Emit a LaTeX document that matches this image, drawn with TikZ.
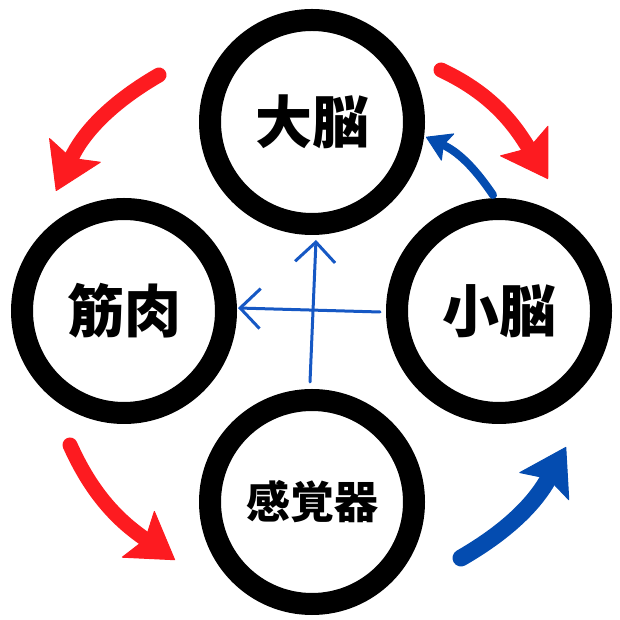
\documentclass[tikz,border=0pt]{standalone}
\usepackage{fontspec}
\newfontfamily\jpfont{Noto Sans CJK JP}
\usetikzlibrary{arrows.meta,calc}
\definecolor{ring}{RGB}{0,0,0}
\definecolor{hotred}{RGB}{253,27,32}
\definecolor{deepblue}{RGB}{4,76,176}
\definecolor{penblue}{RGB}{22,88,196}
\tikzset{
  organ/.style={circle, draw=ring, line width=22pt, minimum size=204pt, inner sep=0pt,
                font={\jpfont\bfseries\fontsize{57}{60}\selectfont}},
  redarr/.style={-{Stealth[length=46pt, width=58pt, inset=9pt, round, line width=1pt]},
                 line width=15pt, draw=hotred, line cap=round},
  bluearr/.style={-{Stealth[length=46pt, width=58pt, inset=9pt, round, line width=1pt]},
                  line width=17pt, draw=deepblue, line cap=round},
  smallarr/.style={-{Stealth[length=25pt, width=31pt, inset=5pt, round, line width=1pt]},
                   line width=8pt, draw=deepblue, line cap=round},
  penarr/.style={-{Straight Barb[length=20pt, width=40pt]}, line width=3pt, draw=penblue,
                 line cap=round},
}

\begin{document}
\begin{tikzpicture}[x=1pt, y=1pt]
  \useasboundingbox (0,0) rectangle (620,620);

  \node[organ] (brain) at (312,498) {大脳};
  \node[organ] (muscle) at (124,309) {筋肉};
  \node[organ] (cere) at (499,309) {小脳};
  \node[organ, font={\jpfont\bfseries\fontsize{44}{48}\selectfont}] (sense) at (312,118) {感覚器};

  \draw[redarr] ($(brain)+(-153,47)$) to[out=210, in=65] ($(muscle)+(-68,120)$);
  \draw[redarr] ($(brain)+(129,52)$) to[out=335, in=122] ($(cere)+(49,132)$);
  \draw[redarr] ($(muscle)+(-54,-134)$) to[out=294, in=145] ($(sense)+(-137,-58)$);
  \draw[bluearr] ($(sense)+(149,-56)$) to[out=30, in=241] ($(cere)+(67,-136)$);
  \draw[smallarr] ($(cere)+(-6,116)$) to[out=124, in=335] ($(brain)+(114,-15)$);

  \draw[penarr] ($(cere.west)+(-6,-1)$) -- ($(muscle.east)+(1,3)$);
  \draw[penarr] ($(sense.north)+(-2,7)$) -- ($(brain.south)+(4,-5)$);
\end{tikzpicture}
\end{document}
